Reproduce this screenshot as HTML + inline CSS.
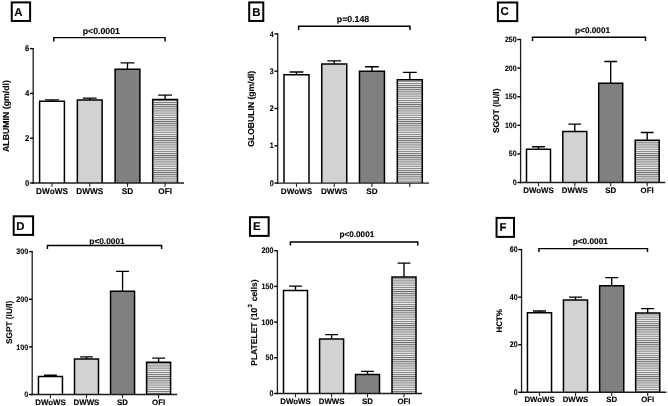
<!DOCTYPE html>
<html lang="en"><head><meta charset="utf-8"><title>Figure</title>
<style>html,body{margin:0;padding:0;background:#fff;}svg{display:block;}text{font-family:"Liberation Sans", Arial, Helvetica, sans-serif;font-weight:bold;fill:#000000;stroke:#000;stroke-width:0.12px;text-rendering:geometricPrecision;}</style></head><body>
<svg width="668" height="406" viewBox="0 0 668 406">
<defs><pattern id="hatch" width="4" height="2.125" patternUnits="userSpaceOnUse"><rect width="4" height="2.125" fill="#ececec"/><rect y="0" width="4" height="0.95" fill="#6c6c6c"/></pattern></defs>
<rect width="668" height="406" fill="#ffffff"/>
<g id="panel-A">
<rect x="11.75" y="2.40" width="18.35" height="18.55" fill="#fff" stroke="#000000" stroke-width="2.0"/>
<text x="18.45" y="15.50" font-size="11.40" text-anchor="middle">A</text>
<path d="M52.00 101.24 V99.90 M45.10 99.90 H58.90" stroke="#000000" stroke-width="1.35" fill="none"/>
<path d="M39.60 183.00 V101.24 H64.40 V183.00" fill="#ffffff" stroke="#000000" stroke-width="1.5" stroke-linejoin="miter"/>
<path d="M52.00 183.00 v3.8" stroke="#2a2a2a" stroke-width="1.15"/>
<text x="52.00" y="193.50" font-size="8.25" text-anchor="middle">DWoWS</text>
<path d="M89.75 100.12 V98.10 M82.85 98.10 H96.65" stroke="#000000" stroke-width="1.35" fill="none"/>
<path d="M77.35 183.00 V100.12 H102.15 V183.00" fill="#d2d2d2" stroke="#000000" stroke-width="1.5" stroke-linejoin="miter"/>
<path d="M89.75 183.00 v3.8" stroke="#2a2a2a" stroke-width="1.15"/>
<text x="89.75" y="193.50" font-size="8.25" text-anchor="middle">DWWS</text>
<path d="M127.50 69.21 V62.94 M120.60 62.94 H134.40" stroke="#000000" stroke-width="1.35" fill="none"/>
<path d="M115.10 183.00 V69.21 H139.90 V183.00" fill="#808080" stroke="#000000" stroke-width="1.5" stroke-linejoin="miter"/>
<path d="M127.50 183.00 v3.8" stroke="#2a2a2a" stroke-width="1.15"/>
<text x="127.50" y="193.50" font-size="8.25" text-anchor="middle">SD</text>
<path d="M165.10 99.45 V95.19 M158.20 95.19 H172.00" stroke="#000000" stroke-width="1.35" fill="none"/>
<path d="M152.70 183.00 V99.45 H177.50 V183.00" fill="url(#hatch)" stroke="#000000" stroke-width="1.5" stroke-linejoin="miter"/>
<path d="M165.10 183.00 v3.8" stroke="#2a2a2a" stroke-width="1.15"/>
<text x="165.10" y="193.50" font-size="8.25" text-anchor="middle">OFI</text>
<path d="M33.20 48.00 V183.70" stroke="#1c1c1c" stroke-width="1.3" fill="none"/>
<path d="M32.55 183.00 H184.00" stroke="#1c1c1c" stroke-width="1.45" fill="none"/>
<path d="M33.20 183.00 h-3.25" stroke="#000000" stroke-width="1.4"/>
<text transform="translate(29.25 185.80) scale(0.920 1)" font-size="8.40" text-anchor="end">0</text>
<path d="M33.20 138.20 h-3.25" stroke="#000000" stroke-width="1.4"/>
<text transform="translate(29.25 141.00) scale(0.920 1)" font-size="8.40" text-anchor="end">2</text>
<path d="M33.20 93.40 h-3.25" stroke="#000000" stroke-width="1.4"/>
<text transform="translate(29.25 96.20) scale(0.920 1)" font-size="8.40" text-anchor="end">4</text>
<path d="M33.20 48.60 h-3.25" stroke="#000000" stroke-width="1.4"/>
<text transform="translate(29.25 51.40) scale(0.920 1)" font-size="8.40" text-anchor="end">6</text>
<path d="M53.80 41.50 V37.60 H165.10 V41.50" stroke="#000000" stroke-width="1.45" fill="none"/>
<text x="101.30" y="33.80" font-size="8.75" text-anchor="middle">p&lt;0.0001</text>
<text transform="translate(8.50 116.00) rotate(-90)" font-size="8.75" text-anchor="middle">ALBUMIN (gm/dl)</text>
</g>
<g id="panel-B">
<rect x="249.20" y="2.40" width="14.10" height="18.55" fill="#fff" stroke="#000000" stroke-width="2.0"/>
<text x="256.35" y="15.60" font-size="11.40" text-anchor="middle">B</text>
<path d="M296.50 74.71 V71.95 M289.60 71.95 H303.40" stroke="#000000" stroke-width="1.35" fill="none"/>
<path d="M284.00 183.10 V74.71 H309.00 V183.10" fill="#ffffff" stroke="#000000" stroke-width="1.5" stroke-linejoin="miter"/>
<path d="M296.50 183.10 v3.8" stroke="#2a2a2a" stroke-width="1.15"/>
<text x="296.50" y="193.70" font-size="8.10" text-anchor="middle">DWoWS</text>
<path d="M334.25 64.11 V60.94 M327.35 60.94 H341.15" stroke="#000000" stroke-width="1.35" fill="none"/>
<path d="M321.75 183.10 V64.11 H346.75 V183.10" fill="#d2d2d2" stroke="#000000" stroke-width="1.5" stroke-linejoin="miter"/>
<path d="M334.25 183.10 v3.8" stroke="#2a2a2a" stroke-width="1.15"/>
<text x="334.25" y="193.70" font-size="8.10" text-anchor="middle">DWWS</text>
<path d="M371.95 71.20 V66.72 M365.05 66.72 H378.85" stroke="#000000" stroke-width="1.35" fill="none"/>
<path d="M359.45 183.10 V71.20 H384.45 V183.10" fill="#808080" stroke="#000000" stroke-width="1.5" stroke-linejoin="miter"/>
<path d="M371.95 183.10 v3.8" stroke="#2a2a2a" stroke-width="1.15"/>
<text x="371.95" y="193.70" font-size="8.10" text-anchor="middle">SD</text>
<path d="M409.80 79.78 V72.32 M402.90 72.32 H416.70" stroke="#000000" stroke-width="1.35" fill="none"/>
<path d="M397.30 183.10 V79.78 H422.30 V183.10" fill="url(#hatch)" stroke="#000000" stroke-width="1.5" stroke-linejoin="miter"/>
<path d="M409.80 183.10 v3.8" stroke="#2a2a2a" stroke-width="1.15"/>
<path d="M277.70 33.30 V183.80" stroke="#1c1c1c" stroke-width="1.3" fill="none"/>
<path d="M277.05 183.10 H429.00" stroke="#1c1c1c" stroke-width="1.45" fill="none"/>
<path d="M277.70 183.10 h-3.25" stroke="#000000" stroke-width="1.4"/>
<text transform="translate(273.75 185.79) scale(0.880 1)" font-size="8.10" text-anchor="end">0</text>
<path d="M277.70 145.80 h-3.25" stroke="#000000" stroke-width="1.4"/>
<text transform="translate(273.75 148.49) scale(0.880 1)" font-size="8.10" text-anchor="end">1</text>
<path d="M277.70 108.50 h-3.25" stroke="#000000" stroke-width="1.4"/>
<text transform="translate(273.75 111.19) scale(0.880 1)" font-size="8.10" text-anchor="end">2</text>
<path d="M277.70 71.20 h-3.25" stroke="#000000" stroke-width="1.4"/>
<text transform="translate(273.75 73.89) scale(0.880 1)" font-size="8.10" text-anchor="end">3</text>
<path d="M277.70 33.90 h-3.25" stroke="#000000" stroke-width="1.4"/>
<text transform="translate(273.75 36.59) scale(0.880 1)" font-size="8.10" text-anchor="end">4</text>
<path d="M298.60 29.90 V26.30 H410.00 V29.90" stroke="#000000" stroke-width="1.45" fill="none"/>
<text x="353.00" y="21.50" font-size="8.75" text-anchor="middle">p=0.148</text>
<text transform="translate(253.70 108.80) rotate(-90)" font-size="8.60" text-anchor="middle">GLOBULIN (gm/dl)</text>
</g>
<g id="panel-C">
<rect x="497.90" y="2.50" width="19.35" height="18.60" fill="#fff" stroke="#000000" stroke-width="2.0"/>
<text x="504.70" y="15.10" font-size="11.40" text-anchor="middle">C</text>
<path d="M538.50 149.27 V146.75 M532.10 146.75 H544.90" stroke="#000000" stroke-width="1.35" fill="none"/>
<path d="M526.50 182.50 V149.27 H550.50 V182.50" fill="#ffffff" stroke="#000000" stroke-width="1.5" stroke-linejoin="miter"/>
<path d="M538.50 182.50 v3.8" stroke="#2a2a2a" stroke-width="1.15"/>
<text x="538.50" y="193.00" font-size="7.90" text-anchor="middle">DWoWS</text>
<path d="M574.80 131.59 V124.16 M568.40 124.16 H581.20" stroke="#000000" stroke-width="1.35" fill="none"/>
<path d="M562.80 182.50 V131.59 H586.80 V182.50" fill="#d2d2d2" stroke="#000000" stroke-width="1.5" stroke-linejoin="miter"/>
<path d="M574.80 182.50 v3.8" stroke="#2a2a2a" stroke-width="1.15"/>
<text x="574.80" y="193.00" font-size="7.90" text-anchor="middle">DWWS</text>
<path d="M610.70 83.26 V61.52 M604.30 61.52 H617.10" stroke="#000000" stroke-width="1.35" fill="none"/>
<path d="M598.70 182.50 V83.26 H622.70 V182.50" fill="#808080" stroke="#000000" stroke-width="1.5" stroke-linejoin="miter"/>
<path d="M610.70 182.50 v3.8" stroke="#2a2a2a" stroke-width="1.15"/>
<text x="610.70" y="193.00" font-size="7.90" text-anchor="middle">SD</text>
<path d="M647.20 140.17 V132.51 M640.80 132.51 H653.60" stroke="#000000" stroke-width="1.35" fill="none"/>
<path d="M635.20 182.50 V140.17 H659.20 V182.50" fill="url(#hatch)" stroke="#000000" stroke-width="1.5" stroke-linejoin="miter"/>
<path d="M647.20 182.50 v3.8" stroke="#2a2a2a" stroke-width="1.15"/>
<text x="647.20" y="193.00" font-size="7.90" text-anchor="middle">OFI</text>
<path d="M520.60 38.90 V183.20" stroke="#1c1c1c" stroke-width="1.3" fill="none"/>
<path d="M519.95 182.50 H665.20" stroke="#1c1c1c" stroke-width="1.45" fill="none"/>
<path d="M520.60 182.50 h-3.25" stroke="#000000" stroke-width="1.4"/>
<text transform="translate(516.65 185.09) scale(0.900 1)" font-size="7.80" text-anchor="end">0</text>
<path d="M520.60 153.90 h-3.25" stroke="#000000" stroke-width="1.4"/>
<text transform="translate(516.65 156.49) scale(0.900 1)" font-size="7.80" text-anchor="end">50</text>
<path d="M520.60 125.30 h-3.25" stroke="#000000" stroke-width="1.4"/>
<text transform="translate(516.65 127.89) scale(0.900 1)" font-size="7.80" text-anchor="end">100</text>
<path d="M520.60 96.70 h-3.25" stroke="#000000" stroke-width="1.4"/>
<text transform="translate(516.65 99.29) scale(0.900 1)" font-size="7.80" text-anchor="end">150</text>
<path d="M520.60 68.10 h-3.25" stroke="#000000" stroke-width="1.4"/>
<text transform="translate(516.65 70.69) scale(0.900 1)" font-size="7.80" text-anchor="end">200</text>
<path d="M520.60 39.50 h-3.25" stroke="#000000" stroke-width="1.4"/>
<text transform="translate(516.65 42.09) scale(0.900 1)" font-size="7.80" text-anchor="end">250</text>
<path d="M532.50 41.00 V37.30 H645.50 V41.00" stroke="#000000" stroke-width="1.45" fill="none"/>
<text x="592.60" y="33.25" font-size="8.25" text-anchor="middle">p&lt;0.0001</text>
<text transform="translate(499.30 110.80) rotate(-90)" font-size="8.35" text-anchor="middle">SGOT (IU/l)</text>
</g>
<g id="panel-D">
<rect x="13.70" y="216.30" width="19.40" height="18.60" fill="#fff" stroke="#000000" stroke-width="2.0"/>
<text x="20.30" y="229.50" font-size="11.40" text-anchor="middle">D</text>
<path d="M50.45 376.49 V375.20 M44.05 375.20 H56.85" stroke="#000000" stroke-width="1.35" fill="none"/>
<path d="M38.45 394.55 V376.49 H62.45 V394.55" fill="#ffffff" stroke="#000000" stroke-width="1.5" stroke-linejoin="miter"/>
<path d="M50.45 394.55 v3.8" stroke="#2a2a2a" stroke-width="1.15"/>
<text x="50.45" y="404.95" font-size="7.87" text-anchor="middle">DWoWS</text>
<path d="M86.50 358.96 V356.91 M80.10 356.91 H92.90" stroke="#000000" stroke-width="1.35" fill="none"/>
<path d="M74.50 394.55 V358.96 H98.50 V394.55" fill="#d2d2d2" stroke="#000000" stroke-width="1.5" stroke-linejoin="miter"/>
<path d="M86.50 394.55 v3.8" stroke="#2a2a2a" stroke-width="1.15"/>
<text x="86.50" y="404.95" font-size="7.87" text-anchor="middle">DWWS</text>
<path d="M122.55 291.15 V271.33 M116.15 271.33 H128.95" stroke="#000000" stroke-width="1.35" fill="none"/>
<path d="M110.55 394.55 V291.15 H134.55 V394.55" fill="#808080" stroke="#000000" stroke-width="1.5" stroke-linejoin="miter"/>
<path d="M122.55 394.55 v3.8" stroke="#2a2a2a" stroke-width="1.15"/>
<text x="122.55" y="404.95" font-size="7.87" text-anchor="middle">SD</text>
<path d="M158.60 362.24 V358.15 M152.20 358.15 H165.00" stroke="#000000" stroke-width="1.35" fill="none"/>
<path d="M146.60 394.55 V362.24 H170.60 V394.55" fill="url(#hatch)" stroke="#000000" stroke-width="1.5" stroke-linejoin="miter"/>
<path d="M158.60 394.55 v3.8" stroke="#2a2a2a" stroke-width="1.15"/>
<text x="158.60" y="404.95" font-size="7.87" text-anchor="middle">OFI</text>
<path d="M32.20 251.00 V395.25" stroke="#1c1c1c" stroke-width="1.3" fill="none"/>
<path d="M31.55 394.55 H177.20" stroke="#1c1c1c" stroke-width="1.45" fill="none"/>
<path d="M32.20 394.55 h-3.25" stroke="#000000" stroke-width="1.4"/>
<text transform="translate(28.25 397.19) scale(0.900 1)" font-size="7.95" text-anchor="end">0</text>
<path d="M32.20 346.90 h-3.25" stroke="#000000" stroke-width="1.4"/>
<text transform="translate(28.25 349.54) scale(0.900 1)" font-size="7.95" text-anchor="end">100</text>
<path d="M32.20 299.25 h-3.25" stroke="#000000" stroke-width="1.4"/>
<text transform="translate(28.25 301.89) scale(0.900 1)" font-size="7.95" text-anchor="end">200</text>
<path d="M32.20 251.60 h-3.25" stroke="#000000" stroke-width="1.4"/>
<text transform="translate(28.25 254.24) scale(0.900 1)" font-size="7.95" text-anchor="end">300</text>
<path d="M47.40 249.00 V245.40 H161.60 V249.00" stroke="#000000" stroke-width="1.45" fill="none"/>
<text x="107.00" y="243.85" font-size="8.30" text-anchor="middle">p&lt;0.0001</text>
<text transform="translate(11.80 322.40) rotate(-90)" font-size="8.30" text-anchor="middle">SGPT (IU/l)</text>
</g>
<g id="panel-E">
<rect x="249.95" y="217.20" width="18.70" height="18.70" fill="#fff" stroke="#000000" stroke-width="2.0"/>
<text x="256.80" y="230.20" font-size="11.40" text-anchor="middle">E</text>
<path d="M295.50 290.40 V286.19 M289.10 286.19 H301.90" stroke="#000000" stroke-width="1.35" fill="none"/>
<path d="M283.50 393.50 V290.40 H307.50 V393.50" fill="#ffffff" stroke="#000000" stroke-width="1.5" stroke-linejoin="miter"/>
<path d="M295.50 393.50 v3.8" stroke="#2a2a2a" stroke-width="1.15"/>
<text x="295.50" y="403.90" font-size="7.85" text-anchor="middle">DWoWS</text>
<path d="M331.60 338.95 V334.59 M325.20 334.59 H338.00" stroke="#000000" stroke-width="1.35" fill="none"/>
<path d="M319.60 393.50 V338.95 H343.60 V393.50" fill="#d2d2d2" stroke="#000000" stroke-width="1.5" stroke-linejoin="miter"/>
<path d="M331.60 393.50 v3.8" stroke="#2a2a2a" stroke-width="1.15"/>
<text x="331.60" y="403.90" font-size="7.85" text-anchor="middle">DWWS</text>
<path d="M367.50 374.44 V371.44 M361.10 371.44 H373.90" stroke="#000000" stroke-width="1.35" fill="none"/>
<path d="M355.50 393.50 V374.44 H379.50 V393.50" fill="#808080" stroke="#000000" stroke-width="1.5" stroke-linejoin="miter"/>
<path d="M367.50 393.50 v3.8" stroke="#2a2a2a" stroke-width="1.15"/>
<text x="367.50" y="403.90" font-size="7.85" text-anchor="middle">SD</text>
<path d="M404.00 277.12 V263.19 M397.60 263.19 H410.40" stroke="#000000" stroke-width="1.35" fill="none"/>
<path d="M392.00 393.50 V277.12 H416.00 V393.50" fill="url(#hatch)" stroke="#000000" stroke-width="1.5" stroke-linejoin="miter"/>
<path d="M404.00 393.50 v3.8" stroke="#2a2a2a" stroke-width="1.15"/>
<text x="404.00" y="403.90" font-size="7.85" text-anchor="middle">OFI</text>
<path d="M277.40 250.10 V394.20" stroke="#1c1c1c" stroke-width="1.3" fill="none"/>
<path d="M276.75 393.50 H422.00" stroke="#1c1c1c" stroke-width="1.45" fill="none"/>
<path d="M277.40 393.50 h-3.25" stroke="#000000" stroke-width="1.4"/>
<text transform="translate(273.45 396.19) scale(0.880 1)" font-size="8.10" text-anchor="end">0</text>
<path d="M277.40 357.80 h-3.25" stroke="#000000" stroke-width="1.4"/>
<text transform="translate(273.45 360.49) scale(0.880 1)" font-size="8.10" text-anchor="end">50</text>
<path d="M277.40 322.10 h-3.25" stroke="#000000" stroke-width="1.4"/>
<text transform="translate(273.45 324.79) scale(0.880 1)" font-size="8.10" text-anchor="end">100</text>
<path d="M277.40 286.40 h-3.25" stroke="#000000" stroke-width="1.4"/>
<text transform="translate(273.45 289.09) scale(0.880 1)" font-size="8.10" text-anchor="end">150</text>
<path d="M277.40 250.70 h-3.25" stroke="#000000" stroke-width="1.4"/>
<text transform="translate(273.45 253.39) scale(0.880 1)" font-size="8.10" text-anchor="end">200</text>
<path d="M290.40 245.50 V242.00 H417.75 V245.50" stroke="#000000" stroke-width="1.45" fill="none"/>
<text x="356.85" y="236.90" font-size="8.20" text-anchor="middle">p&lt;0.0001</text>
<text transform="translate(257.10 322.60) rotate(-90)" font-size="8.50" text-anchor="middle">PLATELET (10<tspan font-size="6" dy="-4.9" dx="0.3">3</tspan><tspan dy="4.9" dx="0.7"> cells)</tspan></text>
</g>
<g id="panel-F">
<rect x="496.55" y="217.90" width="17.45" height="19.00" fill="#fff" stroke="#000000" stroke-width="2.0"/>
<text x="502.90" y="231.10" font-size="11.40" text-anchor="middle">F</text>
<path d="M539.50 312.86 V310.96 M533.00 310.96 H546.00" stroke="#000000" stroke-width="1.35" fill="none"/>
<path d="M527.45 392.30 V312.86 H551.55 V392.30" fill="#ffffff" stroke="#000000" stroke-width="1.5" stroke-linejoin="miter"/>
<path d="M539.50 392.30 v3.8" stroke="#2a2a2a" stroke-width="1.15"/>
<text x="539.50" y="402.20" font-size="7.80" text-anchor="middle">DWoWS</text>
<path d="M575.50 300.02 V297.05 M569.00 297.05 H582.00" stroke="#000000" stroke-width="1.35" fill="none"/>
<path d="M563.45 392.30 V300.02 H587.55 V392.30" fill="#d2d2d2" stroke="#000000" stroke-width="1.5" stroke-linejoin="miter"/>
<path d="M575.50 392.30 v3.8" stroke="#2a2a2a" stroke-width="1.15"/>
<text x="575.50" y="402.20" font-size="7.80" text-anchor="middle">DWWS</text>
<path d="M611.70 285.75 V277.66 M605.20 277.66 H618.20" stroke="#000000" stroke-width="1.35" fill="none"/>
<path d="M599.65 392.30 V285.75 H623.75 V392.30" fill="#808080" stroke="#000000" stroke-width="1.5" stroke-linejoin="miter"/>
<path d="M611.70 392.30 v3.8" stroke="#2a2a2a" stroke-width="1.15"/>
<text x="611.70" y="402.20" font-size="7.80" text-anchor="middle">SD</text>
<path d="M647.70 313.10 V308.58 M641.20 308.58 H654.20" stroke="#000000" stroke-width="1.35" fill="none"/>
<path d="M635.65 392.30 V313.10 H659.75 V392.30" fill="url(#hatch)" stroke="#000000" stroke-width="1.5" stroke-linejoin="miter"/>
<path d="M647.70 392.30 v3.8" stroke="#2a2a2a" stroke-width="1.15"/>
<text x="647.70" y="402.20" font-size="7.80" text-anchor="middle">OFI</text>
<path d="M521.55 249.00 V393.00" stroke="#1c1c1c" stroke-width="1.3" fill="none"/>
<path d="M520.90 392.30 H666.40" stroke="#1c1c1c" stroke-width="1.45" fill="none"/>
<path d="M521.55 392.30 h-3.25" stroke="#000000" stroke-width="1.4"/>
<text transform="translate(517.60 395.03) scale(0.860 1)" font-size="8.20" text-anchor="end">0</text>
<path d="M521.55 344.73 h-3.25" stroke="#000000" stroke-width="1.4"/>
<text transform="translate(517.60 347.46) scale(0.860 1)" font-size="8.20" text-anchor="end">20</text>
<path d="M521.55 297.17 h-3.25" stroke="#000000" stroke-width="1.4"/>
<text transform="translate(517.60 299.90) scale(0.860 1)" font-size="8.20" text-anchor="end">40</text>
<path d="M521.55 249.60 h-3.25" stroke="#000000" stroke-width="1.4"/>
<text transform="translate(517.60 252.33) scale(0.860 1)" font-size="8.20" text-anchor="end">60</text>
<path d="M538.90 252.00 V248.60 H647.50 V252.00" stroke="#000000" stroke-width="1.45" fill="none"/>
<text x="590.30" y="244.30" font-size="8.25" text-anchor="middle">p&lt;0.0001</text>
<text transform="translate(502.20 320.80) rotate(-90)" font-size="8.00" text-anchor="middle">HCT%</text>
</g>
</svg></body></html>
